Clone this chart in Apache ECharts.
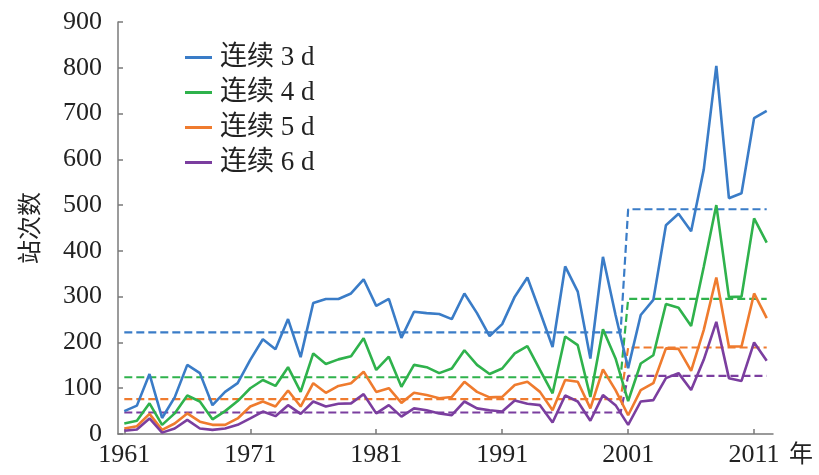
<!DOCTYPE html>
<html>
<head>
<meta charset="utf-8">
<script src="https://cdn.jsdelivr.net/npm/echarts@6/dist/echarts.min.js"></script>
<style>
  html, body { margin: 0; padding: 0; background: #fff; }
  #chart { width: 819px; height: 475px; }
</style>
</head>
<body>
<div id="chart"></div>
<script>
// Years 1961–2012
const years = [];
for (let y = 1961; y <= 2012; y++) years.push(y);

const seriesNames = ['连续 3 d', '连续 4 d', '连续 5 d', '连续 6 d'];

// Station counts per year
const days3 = [50, 62, 131, 35, 80, 151, 133, 63, 92, 111,
  162, 207, 185, 251, 168, 286, 295, 295, 307, 338,
  280, 295, 210, 267, 264, 262, 251, 307, 264, 214,
  240, 300, 342, 267, 190, 366, 311, 165, 387, 260,
  144, 260, 293, 456, 481, 443, 577, 804, 515, 526, 690, 706];
const days4 = [23, 29, 67, 20, 45, 84, 71, 32, 50, 72,
  100, 118, 105, 146, 92, 176, 153, 163, 170, 209,
  140, 169, 103, 151, 146, 133, 143, 183, 151, 131,
  143, 176, 192, 140, 89, 213, 194, 81, 229, 165,
  72, 154, 172, 284, 276, 236, 365, 500, 299, 300, 471, 418];
const days5 = [12, 17, 44, 9, 23, 45, 27, 20, 20, 34,
  60, 71, 60, 95, 60, 111, 90, 105, 111, 136,
  92, 100, 68, 90, 85, 78, 81, 114, 92, 80,
  81, 107, 114, 92, 52, 118, 114, 56, 141, 96,
  41, 96, 111, 187, 186, 138, 227, 342, 191, 191, 307, 253];
const days6 = [7, 10, 34, 3, 12, 31, 12, 9, 12, 20,
  34, 49, 39, 63, 44, 71, 60, 66, 67, 87,
  45, 63, 38, 56, 52, 45, 41, 71, 56, 52,
  49, 73, 66, 63, 25, 84, 71, 29, 85, 63,
  20, 71, 74, 122, 133, 96, 162, 245, 122, 116, 200, 160];

// Period means: 1961–2000 and 2001–2012
const meanEarly = [222, 124, 76, 47];
const meanLate = [491, 295, 189, 127];
const periodBreak = [1961, 2000.4, 2001, 2012];

const xTicks = [1961, 1971, 1981, 1991, 2001, 2011];

const colors = ['#3a7cc7', '#2fb24c', '#ef7b2e', '#7b3e9f'];
const values = [days3, days4, days5, days6];

const fontFamily = '"Liberation Serif", "Noto Sans CJK SC", serif';
const axisColor = '#7a7a7a';

const series = [];
values.forEach((vals, i) => {
  series.push({
    name: seriesNames[i],
    type: 'line',
    data: years.map((y, k) => [y, vals[k]]),
    symbol: 'none',
    lineStyle: { color: colors[i], width: 2.6 },
    itemStyle: { color: colors[i] },
    z: 3
  });
});
values.forEach((vals, i) => {
  series.push({
    name: seriesNames[i] + ' 均值',
    type: 'line',
    data: [
      [periodBreak[0], meanEarly[i]],
      [periodBreak[1], meanEarly[i]],
      [periodBreak[2], meanLate[i]],
      [periodBreak[3], meanLate[i]]
    ],
    symbol: 'none',
    lineStyle: { color: colors[i], width: 2.2, type: [8, 4] },
    itemStyle: { color: colors[i] },
    z: 2
  });
});

const chart = echarts.init(document.getElementById('chart'));
chart.setOption({
  animation: false,
  backgroundColor: '#ffffff',
  grid: { left: 118, right: 46, top: 22, bottom: 41, containLabel: false },
  legend: {
    data: seriesNames,
    orient: 'vertical',
    left: 180,
    top: 39,
    itemWidth: 27,
    itemHeight: 3,
    itemGap: 8,
    icon: 'rect',
    textStyle: { fontFamily: fontFamily, fontSize: 27, color: '#222', padding: [0, 0, 0, 3] }
  },
  xAxis: {
    type: 'value',
    min: 1960.5,
    max: 2012.5,
    name: '年',
    nameLocation: 'end',
    nameGap: 16,
    nameTextStyle: {
      fontFamily: fontFamily, fontSize: 24, color: '#222',
      verticalAlign: 'top', padding: [10, 0, 0, 0]
    },
    axisLine: { lineStyle: { color: axisColor, width: 1.5 } },
    axisTick: { inside: true, length: 5, customValues: xTicks, lineStyle: { color: axisColor, width: 1.5 } },
    axisLabel: {
      customValues: xTicks,
      formatter: (v) => String(v),
      margin: 8,
      fontFamily: fontFamily, fontSize: 26, color: '#222'
    },
    splitLine: { show: false }
  },
  yAxis: {
    type: 'value',
    min: 0,
    max: 900,
    interval: 100,
    name: '站次数',
    nameLocation: 'middle',
    nameRotate: 90,
    nameGap: 74,
    nameTextStyle: { fontFamily: fontFamily, fontSize: 24, color: '#222' },
    axisLine: { show: true, lineStyle: { color: axisColor, width: 1.5 } },
    axisTick: { show: true, inside: true, length: 5, lineStyle: { color: axisColor, width: 1.5 } },
    axisLabel: { margin: 16, fontFamily: fontFamily, fontSize: 26, color: '#222' },
    splitLine: { show: false }
  },
  series: series
});
</script>
</body>
</html>
